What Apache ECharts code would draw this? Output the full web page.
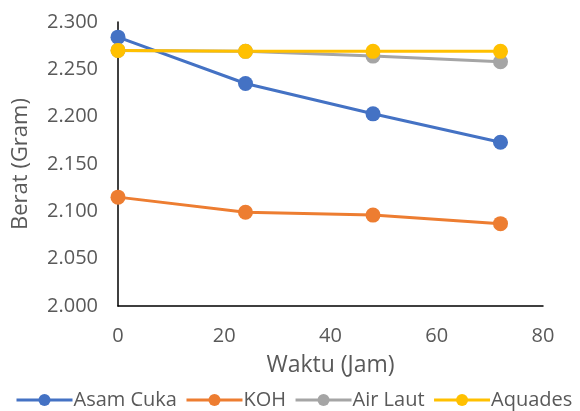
<!DOCTYPE html>
<html><head><meta charset="utf-8">
<script src="https://cdn.jsdelivr.net/npm/echarts@6/dist/echarts.min.js"></script>
<style>html,body{margin:0;padding:0;background:#fff}#c{width:580px;height:411px}</style>
</head><body><div id="c"></div>
<script>
var hours = [0, 24, 48, 72];
var asamCuka = [2.284, 2.235, 2.203, 2.173];
var koh = [2.115, 2.099, 2.096, 2.087];
var airLaut = [2.270, 2.269, 2.264, 2.258];
var aquades = [2.270, 2.269, 2.269, 2.269];
var names = ['Asam Cuka', 'KOH', 'Air Laut', 'Aquades'];
var colors = ['#4472C4', '#ED7D31', '#A5A5A5', '#FFC000'];
var seriesData = [asamCuka, koh, airLaut, aquades];

function pairs(v){ return hours.map(function(h,i){ return [h, v[i]]; }); }

var chart = echarts.init(document.getElementById('c'));
var font = '"Open Sans", sans-serif';
chart.setOption({
  animation: false,
  textStyle: {fontFamily: font},
  grid: {left: 118, right: 37, top: 22, bottom: 105, containLabel: false, outerBoundsMode: 'none'},
  xAxis: {
    type: 'value', min: 0, max: 80, interval: 20,
    name: 'Waktu (Jam)', nameLocation: 'middle', nameGap: 48,
    nameTextStyle: {fontSize: 23, color: '#595959', fontFamily: font},
    axisLine: {show: true, lineStyle: {color: '#000', width: 1.5}},
    axisTick: {show: false}, splitLine: {show: false},
    axisLabel: {fontSize: 20, color: '#595959', margin: 20, fontFamily: font}
  },
  yAxis: {
    type: 'value', min: 2.0, max: 2.3, interval: 0.05,
    name: 'Berat (Gram)', nameLocation: 'middle', nameGap: 86, nameRotate: 90,
    nameTextStyle: {fontSize: 22, color: '#595959', fontFamily: font},
    axisLine: {show: true, lineStyle: {color: '#000', width: 1.5}},
    axisTick: {show: false}, splitLine: {show: false},
    axisLabel: {fontSize: 20, color: '#595959', margin: 20, fontFamily: font,
      formatter: function(v){ return v.toFixed(3); }}
  },
  legend: {
    bottom: -4, left: 10, width: 700, itemGap: 8, itemWidth: 56, itemHeight: 15,
    lineStyle: {width: 3},
    textStyle: {fontSize: 20, color: '#595959', fontFamily: font, padding: [0,0,0,-4]},
    data: names
  },
  series: seriesData.map(function(d, i){
    return {
      name: names[i], type: 'line', data: pairs(d),
      symbol: 'circle', symbolSize: 15,
      itemStyle: {color: colors[i]},
      lineStyle: {color: colors[i], width: 3}
    };
  })
});
</script></body></html>
